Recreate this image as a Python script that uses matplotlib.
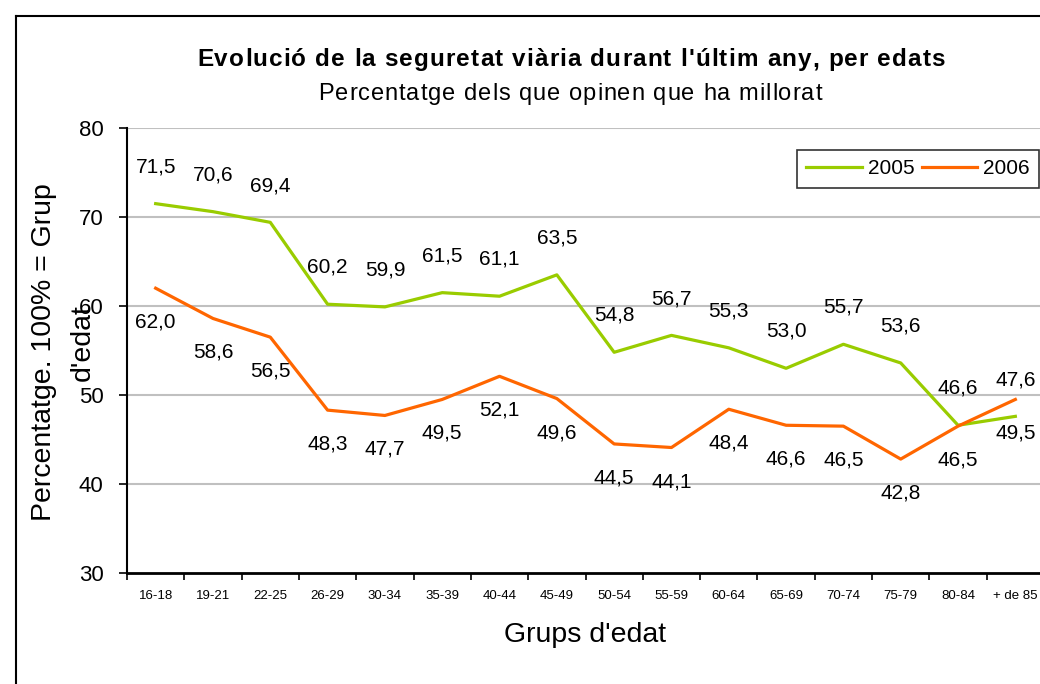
import matplotlib
matplotlib.use("Agg")
import matplotlib.pyplot as plt
from matplotlib.lines import Line2D
from matplotlib import font_manager
from matplotlib.ft2font import FT2Font

plt.rcParams['font.family'] = ['Liberation Sans', 'DejaVu Sans']

categories = ["16-18", "19-21", "22-25", "26-29", "30-34", "35-39", "40-44", "45-49",
              "50-54", "55-59", "60-64", "65-69", "70-74", "75-79", "80-84", "+ de 85"]
values_2005 = [71.5, 70.6, 69.4, 60.2, 59.9, 61.5, 61.1, 63.5, 54.8, 56.7, 55.3, 53.0, 55.7, 53.6, 46.6, 47.6]
values_2006 = [62.0, 58.6, 56.5, 48.3, 47.7, 49.5, 52.1, 49.6, 44.5, 44.1, 48.4, 46.6, 46.5, 42.8, 46.5, 49.5]
yticks = [30, 40, 50, 60, 70, 80]
title = "Evolució de la seguretat viària durant l'últim any, per edats"
subtitle = "Percentatge dels que opinen que ha millorat"
ylabel_1 = "Percentatge. 100% = Grup"
ylabel_2 = "d'edat"

GREEN = "#99CC00"
ORANGE = "#FF6600"
DPI = 100
W, H = 1040, 684

fig = plt.figure(figsize=(W / DPI, H / DPI), dpi=DPI)


def tracked_text(s, left_px, right_px, baseline_px, size, weight="normal"):
    """Draw text char by char, slightly letter-spaced to span left..right pixels."""
    fp = font_manager.FontProperties(family="Liberation Sans", weight=weight, size=size)
    ft = FT2Font(font_manager.findfont(fp))
    ft.set_size(size, DPI)
    adv = [ft.load_char(ord(ch)).linearHoriAdvance / 65536.0 for ch in s]
    track = ((right_px - left_px) - sum(adv)) / (len(s) - 1)
    pos = left_px
    for ch, a in zip(s, adv):
        if ch != " ":
            fig.text(pos / W, 1 - baseline_px / H, ch, fontproperties=fp,
                     ha="left", va="baseline")
        pos += a + track


# outer frame (top and left visible)
fig.add_artist(Line2D([16 / W, 16 / W], [0, 1 - 16 / H], color="black", lw=1.5, transform=fig.transFigure))
fig.add_artist(Line2D([16 / W, 1], [1 - 16 / H, 1 - 16 / H], color="black", lw=1.5, transform=fig.transFigure))

ax = fig.add_axes([127 / W, 1 - 573 / H, (1044 - 127) / W, (573 - 128) / H])
x = list(range(len(categories)))

ax.set_ylim(30, 80)
ax.set_xlim(-0.5, len(categories) - 0.5)
ax.set_yticks(yticks)
ax.set_yticklabels([str(v) for v in yticks], fontsize=16)
for v in yticks[1:]:
    ax.axhline(v, color="#C0C0C0", lw=1.5, zorder=1)

ax.plot(x, values_2005, color=GREEN, lw=2.3, zorder=3, label="2005")
ax.plot(x, values_2006, color=ORANGE, lw=2.3, zorder=3, label="2006")

for xi, v in zip(x, values_2005):
    ax.annotate(f"{v:.1f}".replace(".", ","), (xi, v), xytext=(0, 26.5), textcoords="offset points",
                ha="center", va="center", fontsize=15)
for xi, v in zip(x, values_2006):
    ax.annotate(f"{v:.1f}".replace(".", ","), (xi, v), xytext=(0, -24.5), textcoords="offset points",
                ha="center", va="center", fontsize=15)

ax.set_xticks(x)
ax.set_xticklabels(categories, fontsize=9.5)
ax.tick_params(axis="x", which="major", length=0, pad=12.5)
ax.set_xticks([i - 0.5 for i in range(len(categories) + 1)], minor=True)
ax.tick_params(axis="x", which="minor", length=5, width=1.2, direction="out")
ax.tick_params(axis="y", length=6, width=1.2, direction="out", pad=11)

for s in ["top", "right"]:
    ax.spines[s].set_visible(False)
ax.spines["left"].set_linewidth(1.5)
ax.spines["bottom"].set_linewidth(2)

ax.set_xlabel("Grups d'edat", fontsize=20.5, labelpad=14)
fig.text(44 / W, 1 - 352 / H, ylabel_1, rotation=90, fontsize=20.5, ha="center", va="center")
fig.text(83 / W, 1 - 343 / H, ylabel_2, rotation=90, fontsize=20.5, ha="center", va="center")

tracked_text(title, 197, 945, 66, 17.5, weight="bold")
tracked_text(subtitle, 318, 822, 100, 17)

leg = ax.legend(loc="upper left", bbox_to_anchor=((797 - 127) / (1044 - 127), 1 - (150 - 128) / (573 - 128)),
                ncol=2, frameon=True, fancybox=False, edgecolor="black", fontsize=15,
                handlelength=2.65, handletextpad=0.3, columnspacing=0.35, borderpad=0.45,
                borderaxespad=0)
leg.get_frame().set_linewidth(1.2)

fig.savefig("out.png", dpi=DPI)
